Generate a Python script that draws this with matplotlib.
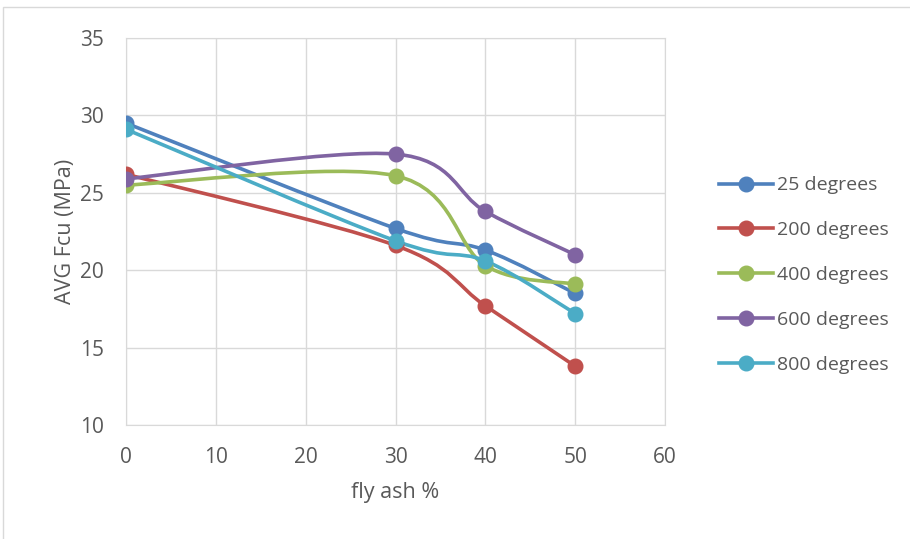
import numpy as np
import matplotlib
matplotlib.use("Agg")
import matplotlib.pyplot as plt
from matplotlib.path import Path
from matplotlib.patches import PathPatch, Rectangle
from matplotlib.lines import Line2D

plt.rcParams["font.family"] = ["Open Sans", "DejaVu Sans"]

fly_ash = [0, 30, 40, 50]
fcu_25 = [29.5, 22.7, 21.3, 18.5]
fcu_200 = [26.2, 21.6, 17.7, 13.8]
fcu_400 = [25.5, 26.1, 20.3, 19.1]
fcu_600 = [25.9, 27.5, 23.8, 21.0]
fcu_800 = [29.1, 21.9, 20.6, 17.2]

series = [
    ("25 degrees", fcu_25, "#4F81BD"),
    ("200 degrees", fcu_200, "#C0504D"),
    ("400 degrees", fcu_400, "#9BBB59"),
    ("600 degrees", fcu_600, "#8064A2"),
    ("800 degrees", fcu_800, "#4BACC6"),
]


def smooth_path(x, y):
    """Excel-like smoothed line: Catmull-Rom as cubic Bezier segments."""
    pts = np.column_stack([x, y]).astype(float)
    n = len(pts)
    verts = [pts[0]]
    codes = [Path.MOVETO]
    for i in range(n - 1):
        p0 = pts[max(i - 1, 0)]
        p1 = pts[i]
        p2 = pts[i + 1]
        p3 = pts[min(i + 2, n - 1)]
        c1 = p1 + (p2 - p0) / 6.0
        c2 = p2 - (p3 - p1) / 6.0
        verts += [c1, c2, p2]
        codes += [Path.CURVE4] * 3
    return Path(verts, codes)


fig = plt.figure(figsize=(9.1, 5.39), dpi=100)
fig.patches.append(Rectangle((3 / 910, -0.01), 1.0, 1 - 7 / 539 + 0.01,
                             transform=fig.transFigure, fill=False,
                             edgecolor="#d9d9d9", linewidth=1))
ax = fig.add_axes([126 / 910, 1 - 425 / 539, 539 / 910, 387 / 539])

handles = []
for label, vals, color in series:
    patch = PathPatch(smooth_path(fly_ash, vals), facecolor="none",
                      edgecolor=color, linewidth=2.6, zorder=3,
                      capstyle="round")
    ax.add_patch(patch)
    ax.plot(fly_ash, vals, linestyle="none", marker="o", markersize=10.5,
            color=color, zorder=4)
    handles.append(Line2D([], [], color=color, linewidth=2.6, marker="o",
                          markersize=10.5, label=label))

ax.set_xlim(0, 60)
ax.set_ylim(10, 35)
ax.set_xticks(range(0, 61, 10))
ax.set_yticks(range(10, 36, 5))
ax.grid(True, color="#d9d9d9", linewidth=1)
ax.set_axisbelow(True)
for s in ax.spines.values():
    s.set_color("#d9d9d9")
ax.tick_params(length=0, labelsize=15, colors="#595959", pad=16)
ax.set_xlabel("fly ash %", fontsize=15.5, color="#595959", labelpad=10)
ax.set_ylabel("AVG Fcu (MPa)", fontsize=15.5, color="#595959", labelpad=3)

fig.legend(handles=handles, loc="center left",
           bbox_to_anchor=(701 / 910, 1 - 275 / 539), frameon=False,
           fontsize=14, labelcolor="#595959", handlelength=2.8,
           handletextpad=0.2, labelspacing=1.38)

fig.savefig("out.png", dpi=100)
